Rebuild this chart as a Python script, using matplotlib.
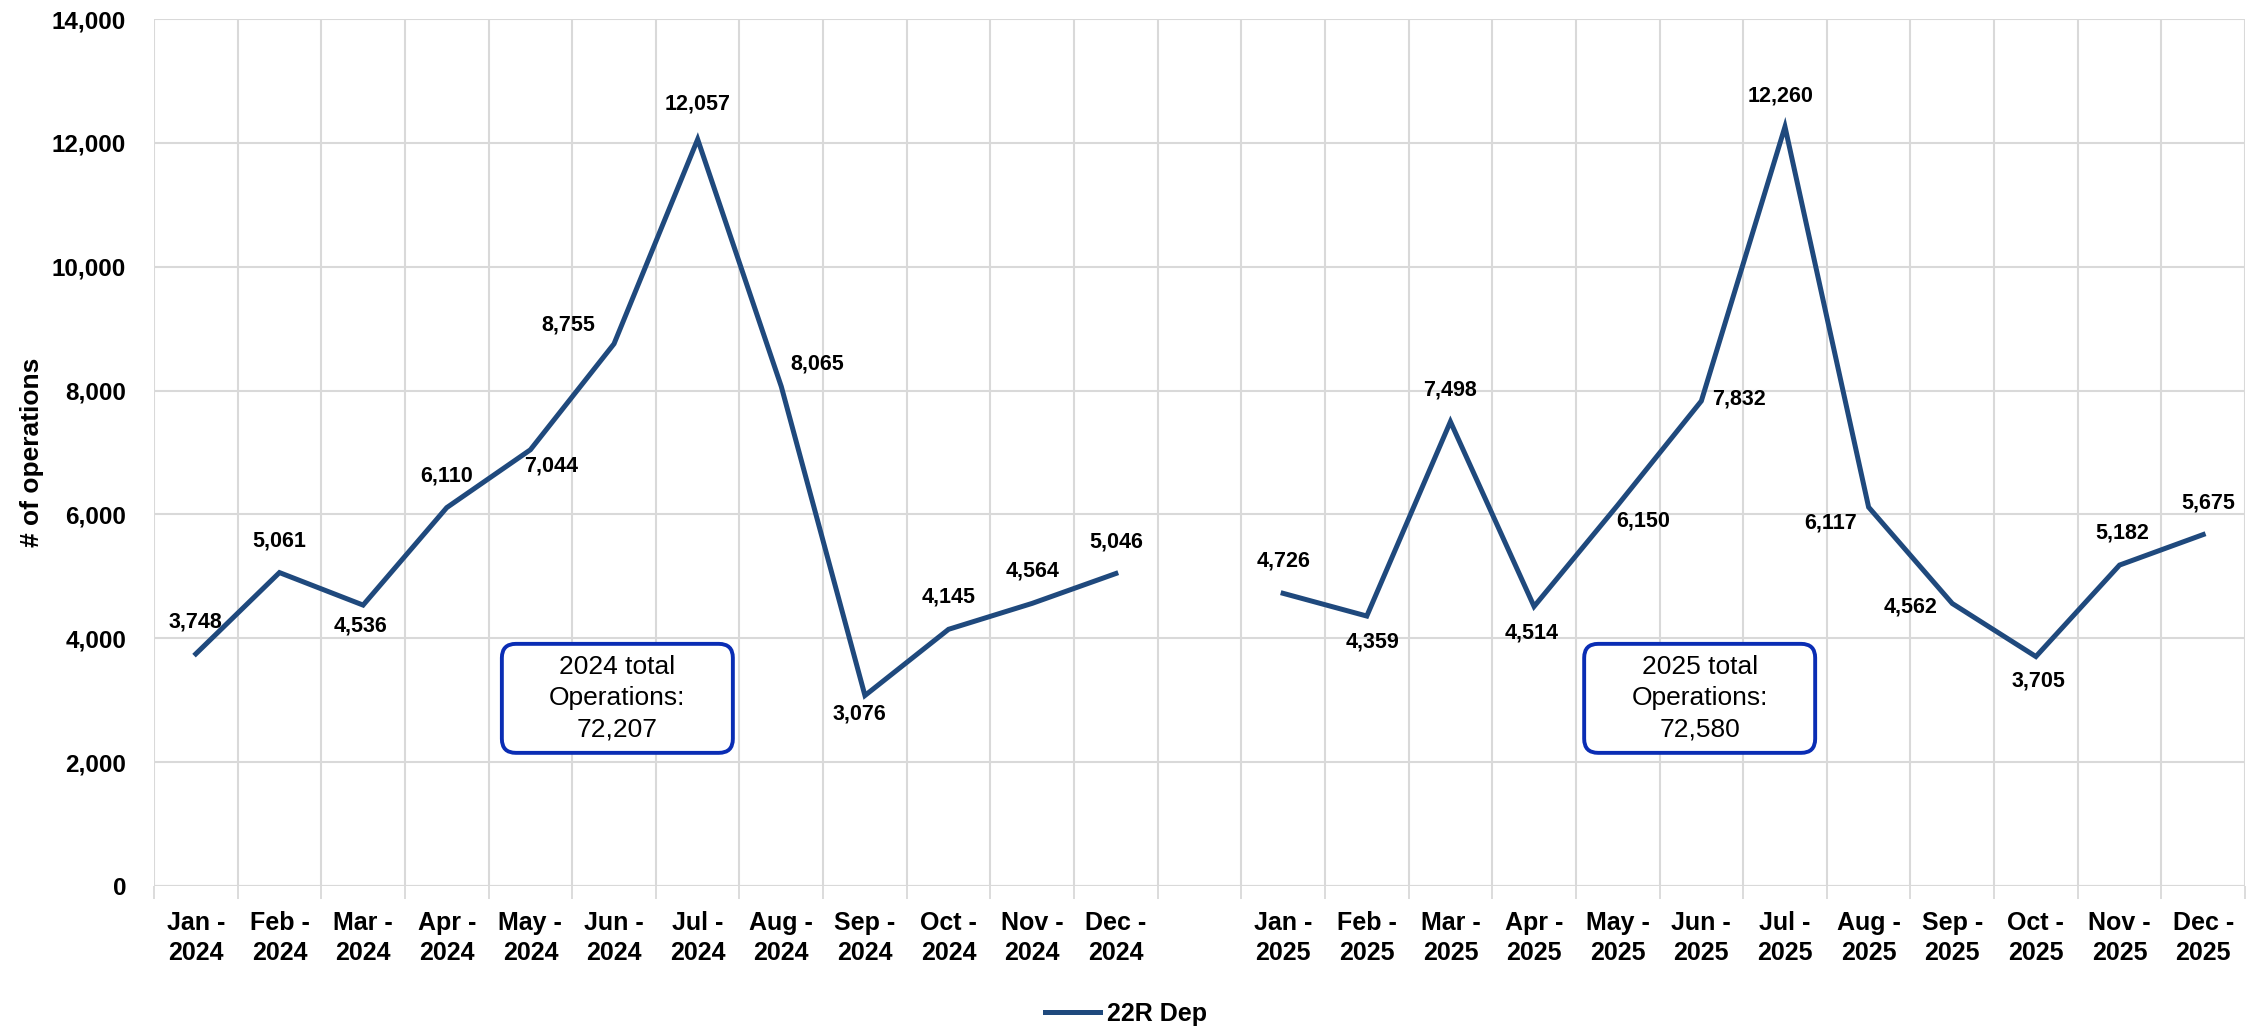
import numpy as np
import matplotlib
matplotlib.use('Agg')
import matplotlib.pyplot as plt
from matplotlib.patches import FancyBboxPatch
from matplotlib.ticker import FuncFormatter, FixedLocator

# data
months = ['Jan', 'Feb', 'Mar', 'Apr', 'May', 'Jun',
          'Jul', 'Aug', 'Sep', 'Oct', 'Nov', 'Dec']
years = ['2024', '2025']
ops_2024 = [3748, 5061, 4536, 6110, 7044, 8755, 12057, 8065, 3076, 4145, 4564, 5046]
ops_2025 = [4726, 4359, 7498, 4514, 6150, 7832, 12260, 6117, 4562, 3705, 5182, 5675]
totals = ['72,207', '72,580']
series_name = '22R Dep'

# label offsets in pixels (dx, dy), dy positive = up
off_2024 = [(0, 32), (0, 32), (-3, -21), (0, 32), (21, -16), (-46, 19),
            (0, 35), (36, 23), (-6, -18), (0, 32), (0, 32), (0, 32)]
off_2025 = [(0, 32), (6, -26), (0, 32), (-2, -27), (25, -16), (38, 2),
            (-4, 31), (-38, -16), (-42, -4), (3, -24), (3, 32), (5, 32)]

plt.rcParams['font.family'] = ['Liberation Sans', 'DejaVu Sans']
xtick_fs, ytick_fs, lab_fs = 18, 17.5, 15.5

LINE = '#1F497D'
GRID = '#D9D9D9'

# build category positions, one empty slot between years
values = []
labels = []
offsets = []
for yi, (yr, vals, offs) in enumerate(zip(years, [ops_2024, ops_2025], [off_2024, off_2025])):
    for m, v, o in zip(months, vals, offs):
        labels.append(f'{m} -\n{yr}')
        values.append(v)
        offsets.append(o)
    if yi == 0:
        labels.append('')
        values.append(np.nan)
        offsets.append((0, 0))
x = np.arange(len(values))
values = np.array(values, dtype=float)

W, H = 2252, 1029
fig = plt.figure(figsize=(W / 100, H / 100), dpi=100)
ax = fig.add_axes([154 / W, (H - 886) / H, 2091 / W, 867 / H])

ax.plot(x, values, color=LINE, lw=3.6, solid_joinstyle='miter', label=series_name, zorder=3)

for xi, v, (dx, dy) in zip(x, values, offsets):
    if np.isnan(v):
        continue
    ax.annotate(f'{int(v):,}', (xi, v), xytext=(dx, dy), textcoords='offset pixels',
                ha='center', va='center', fontsize=lab_fs, fontweight='bold',
                color='black', zorder=4)

ax.set_xlim(-0.5, len(values) - 0.5)
ax.set_ylim(0, 14000)
ax.set_yticks(np.arange(0, 14001, 2000))
ax.yaxis.set_major_formatter(FuncFormatter(lambda v, p: f'{int(v):,}'))

ax.set_xticks(x)
ax.set_xticklabels(labels, fontsize=xtick_fs, fontweight='bold', linespacing=1.3)
ax.xaxis.set_minor_locator(FixedLocator(np.arange(-0.5, len(values), 1.0)))
ax.tick_params(axis='x', which='major', length=0, pad=18)
ax.tick_params(axis='x', which='minor', length=9, width=1.3, color=GRID)
ax.tick_params(axis='y', length=0, pad=20, labelsize=ytick_fs)
for t in ax.get_yticklabels():
    t.set_fontweight('bold')

ax.grid(True, axis='y', color=GRID, lw=1.5, zorder=0)
ax.grid(True, axis='x', which='minor', color=GRID, lw=1.5, zorder=0)
ax.grid(False, axis='x', which='major')
for s in ax.spines.values():
    s.set_visible(False)
ax.axhline(0, color=GRID, lw=2.2, zorder=1)

ax.set_ylabel('# of operations', fontsize=19, fontweight='bold', labelpad=6)

# total boxes: size given in pixels, converted to data units
px_x = (len(values)) / 2091
px_y = 14000 / 867
bw, bh, rad = 231, 109, 14
for cx, yr, tot in zip([5.04, 17.98], years, totals):
    cy = 3030
    patch = FancyBboxPatch((cx - bw / 2 * px_x + rad * px_x, cy - bh / 2 * px_y + rad * px_y),
                           (bw - 2 * rad) * px_x, (bh - 2 * rad) * px_y,
                           boxstyle=f'round,pad={rad * px_x},rounding_size={rad * px_x}',
                           mutation_aspect=px_y / px_x,
                           fc='white', ec='#0A2DB4', lw=2.8, zorder=5)
    ax.add_patch(patch)
    ax.text(cx, cy, f'{yr} total\nOperations:\n{tot}', ha='center', va='center',
            fontsize=19, linespacing=1.4, zorder=6)

fig.legend(loc='center', bbox_to_anchor=(0.5, 1 - 1014 / H), frameon=False,
           prop=dict(size=xtick_fs, weight='bold'), handlelength=2.2, handletextpad=0.3)

fig.savefig('out.png', dpi=100, facecolor='white')
